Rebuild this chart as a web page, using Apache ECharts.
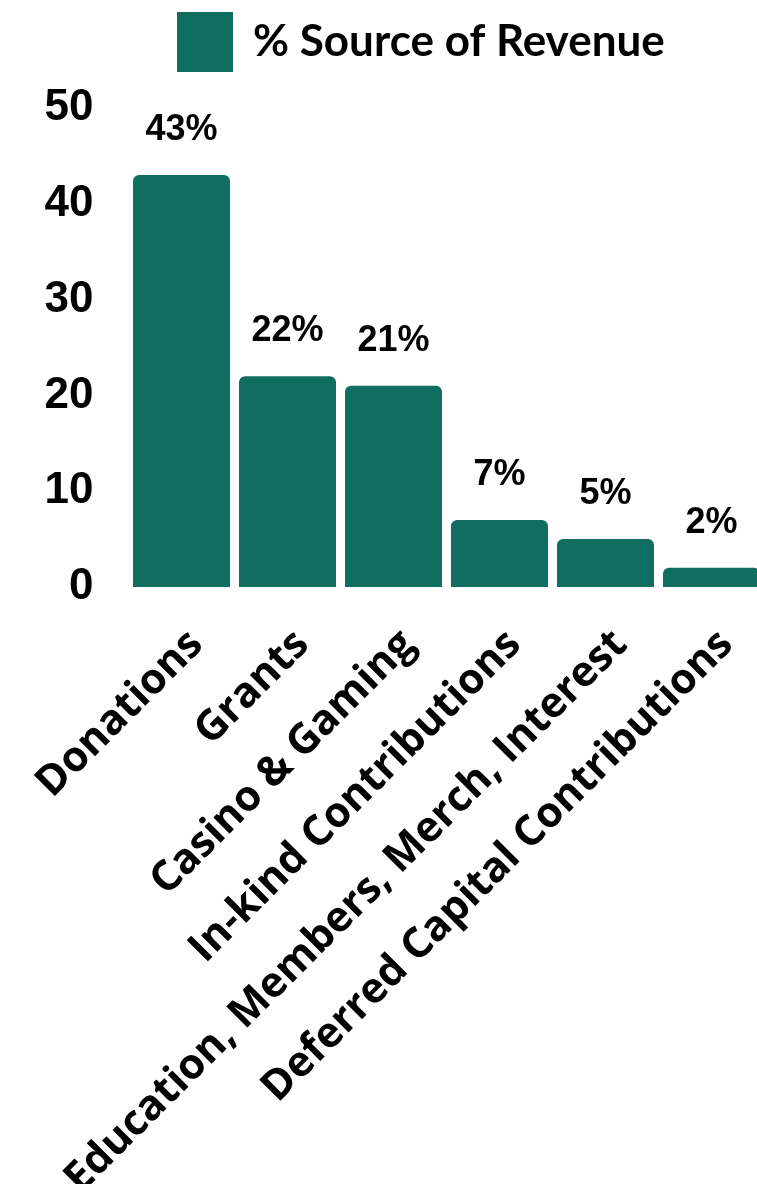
<!DOCTYPE html>
<html>
<head>
	<meta charset="utf-8"/>
	<title>Source of Revenue</title>
	<style>
		* {
			margin: 0;
			padding: 0;
		}
		body {
			background: #fff;
		}
	</style>
</head>
<body>

	<div style="width: 757px;height:1184px;" id="myChart"></div>

	<script src="https://cdn.jsdelivr.net/npm/echarts@6/dist/echarts.min.js"></script>
	<script>
		var categories = ['Donations', 'Grants', 'Casino & Gaming', 'In-kind Contributions', 'Education, Members, Merch, Interest', 'Deferred Capital Contributions'];
		var revenueShare = [43, 22, 21, 7, 5, 2];
		var seriesName = '% Source of Revenue';

		var myChart = echarts.init(document.getElementById('myChart'));

		var option = {
			animation: false,
			legend: {
				data: [seriesName],
				left: 177,
				top: 12,
				padding: 0,
				icon: 'rect',
				itemWidth: 56,
				itemHeight: 60,
				textStyle: {
					fontFamily: 'Lato',
					fontWeight: 'bold',
					fontSize: 44,
					color: '#000',
					padding: [0, 0, 0, 15]
				}
			},
			grid: {
				left: 128.5,
				width: 636,
				top: 108,
				bottom: 597,
				outerBoundsMode: 'none'				// keep the grid where it is, labels may run off
			},
			xAxis: {
				type: 'category',
				data: categories,
				axisLine: { show: false },
				axisTick: { show: false },
				axisLabel: {
					rotate: 45,
					interval: 0,
					margin: 36,
					verticalAlign: 'top',
					fontFamily: '"Open Sans"',
					fontWeight: 'bold',
					fontSize: 42,
					color: '#000'
				}
			},
			yAxis: {
				type: 'value',
				min: 0,
				max: 50,
				interval: 10,
				splitLine: { show: false },
				axisLine: { show: false },
				axisLabel: {
					margin: 35,
					fontFamily: '"Liberation Sans"',
					fontWeight: 'bold',
					fontSize: 44,
					color: '#000'
				}
			},
			series: [
				{
					name: seriesName,
					type: 'bar',
					data: revenueShare,
					barCategoryGap: '8.5%',
					itemStyle: {
						color: '#0f6e60',
						borderRadius: [6, 6, 0, 0]
					},
					label: {
						show: true,
						position: 'top',
						distance: 27,
						formatter: '{c}%',
						fontFamily: '"Liberation Sans"',
						fontWeight: 'bold',
						fontSize: 36,
						color: '#000'
					}
				}
			]
		};

		myChart.setOption(option);
	</script>
</body>
</html>
